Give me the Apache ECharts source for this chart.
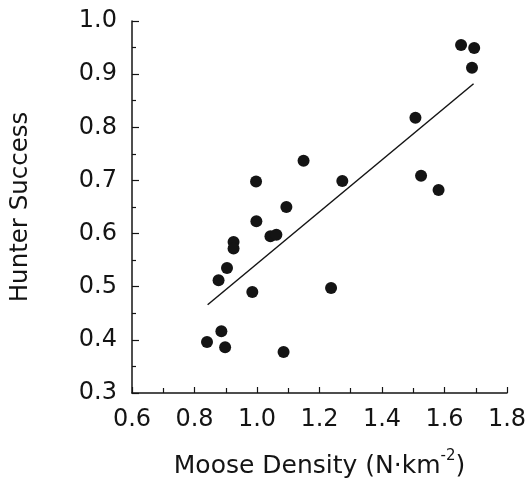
<!DOCTYPE html>
<html>
<head>
<meta charset="utf-8">
<script src="https://cdn.jsdelivr.net/npm/echarts@6/dist/echarts.min.js"></script>
<style>html,body{margin:0;padding:0;background:#fff}#c{width:528px;height:480px}</style>
</head>
<body>
<div id="c"></div>
<script>
// Moose density (N·km^-2) vs hunter success
const densityX = [1.653, 1.695, 1.688, 1.507, 1.525, 1.581, 1.149, 1.273, 0.997, 1.094, 0.998, 1.043, 1.062, 0.925, 0.925, 0.904, 0.877, 0.985, 1.237, 0.886, 0.840, 0.898, 1.085];
const successY = [0.955, 0.949, 0.912, 0.818, 0.709, 0.682, 0.737, 0.699, 0.698, 0.650, 0.623, 0.595, 0.598, 0.584, 0.572, 0.535, 0.512, 0.490, 0.4975, 0.416, 0.396, 0.386, 0.377];
const fitX = [0.842, 1.693];
const fitY = [0.466, 0.882];
const xTicks = [0.6, 0.8, 1.0, 1.2, 1.4, 1.6, 1.8];
const yTicks = [0.3, 0.4, 0.5, 0.6, 0.7, 0.8, 0.9, 1.0];

const ink = '#141414';
const font = 'DejaVu Sans';
const chart = echarts.init(document.getElementById('c'), null, {renderer: 'canvas'});
chart.setOption({
  backgroundColor: '#ffffff',
  animation: false,
  grid: {left: 132, right: 21, top: 21, bottom: 87, containLabel: false, outerBoundsMode: 'none'},
  xAxis: {
    type: 'value',
    min: xTicks[0], max: xTicks[xTicks.length - 1], interval: 0.2,
    name: '{a|Moose Density (N·km}{b|-2}{a|)}',
    nameLocation: 'middle', nameGap: 56,
    nameTextStyle: {
      color: ink, fontFamily: font, fontSize: 25,
      rich: {
        a: {color: ink, fontFamily: font, fontSize: 25, lineHeight: 30, verticalAlign: 'bottom'},
        b: {color: ink, fontFamily: font, fontSize: 15, lineHeight: 30, verticalAlign: 'top'}
      }
    },
    axisLine: {show: true, onZero: false, lineStyle: {color: ink, width: 1.5}},
    axisTick: {show: true, inside: true, length: 6, lineStyle: {color: ink, width: 1.2}},
    minorTick: {show: true, splitNumber: 2, length: 5, lineStyle: {color: ink, width: 1.2}},
    splitLine: {show: false},
    axisLabel: {
      color: ink, fontFamily: font, fontSize: 24, margin: 15,
      formatter: v => v.toFixed(1)
    }
  },
  yAxis: {
    type: 'value',
    min: yTicks[0], max: yTicks[yTicks.length - 1], interval: 0.1,
    name: 'Hunter Success',
    nameLocation: 'middle', nameGap: 99,
    nameTextStyle: {color: ink, fontFamily: font, fontSize: 24.5},
    axisLine: {show: true, onZero: false, lineStyle: {color: ink, width: 1.5}},
    axisTick: {show: true, inside: true, length: 7, lineStyle: {color: ink, width: 1.2}},
    minorTick: {show: true, splitNumber: 2, length: 4, lineStyle: {color: ink, width: 1.2}},
    splitLine: {show: false},
    axisLabel: {
      color: ink, fontFamily: font, fontSize: 24, margin: 15,
      formatter: v => v.toFixed(1)
    }
  },
  series: [
    {
      type: 'scatter',
      data: densityX.map((x, i) => [x, successY[i]]),
      symbol: 'circle', symbolSize: 12,
      itemStyle: {color: ink, opacity: 1}
    },
    {
      type: 'line',
      data: fitX.map((x, i) => [x, fitY[i]]),
      symbol: 'none',
      lineStyle: {color: ink, width: 1.5}
    }
  ]
});
</script>
</body>
</html>
